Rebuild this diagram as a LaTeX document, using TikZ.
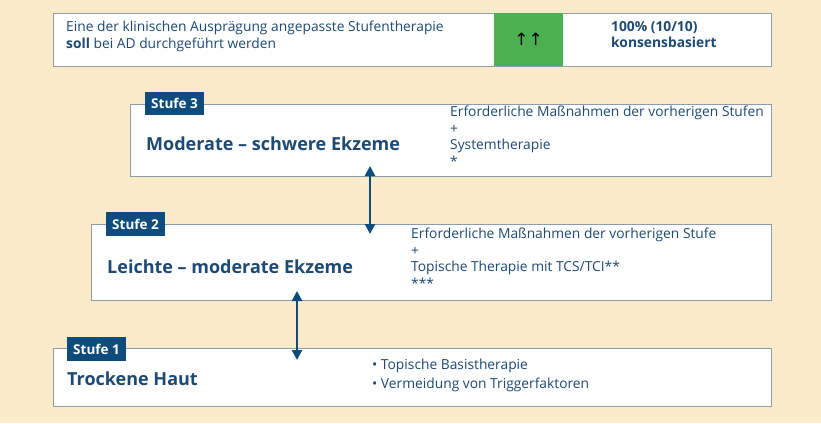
\documentclass[tikz,border=0pt]{standalone}
\usepackage{fontspec}
\setmainfont{Open Sans}
\newfontfamily\symfont{DejaVu Sans}
\usetikzlibrary{arrows.meta}
\definecolor{bg}{HTML}{FCEBCB}
\definecolor{navy}{HTML}{0E4C7E}
\definecolor{txt}{HTML}{1D4A73}
\definecolor{bord}{HTML}{8C9CA8}
\definecolor{grn}{HTML}{4CAF50}
\tikzset{
  box/.style={draw=bord, fill=white, line width=0.8pt},
  tab/.style={fill=navy, text=white, font=\bfseries\fontsize{13.5}{15}\selectfont, inner sep=0pt, anchor=center},
  title/.style={text=txt, font=\bfseries\fontsize{18}{20}\selectfont, anchor=west, inner sep=0pt},
  body/.style={text=txt, font=\fontsize{13.8}{16.6}\selectfont, anchor=north west, inner sep=0pt, align=left},
  arr/.style={navy, line width=2.5pt, {Triangle[width=10pt,length=10pt]}-{Triangle[width=10pt,length=10pt]}}
}
\begin{document}
\begin{tikzpicture}[x=1pt,y=-1pt]
\fill[bg] (0,0) rectangle (821,423);
% top
\draw[box] (53,13) rectangle (771,66);
\fill[grn] (494,13.4) rectangle (563,65.6);
\node[body] (q) at (66,21) {Eine der klinischen Ausprägung angepasste Stufentherapie\\\textbf{soll} bei AD durchgeführt werden};
\node[text=black, font=\symfont\fontsize{17}{18}\selectfont, inner sep=0pt] (g) at (528.5,39) {↑↑};
\node[body, font=\bfseries\fontsize{13.8}{16.6}\selectfont] (k) at (611,21) {100\% (10/10)\\konsensbasiert};
% stufe 3
\draw[box] (130,104) rectangle (771,176);
\node[tab, minimum width=59pt, minimum height=23pt] (t3) at (174.5,103.5) {Stufe 3};
\node[title] (m3) at (146,144) {Moderate – schwere Ekzeme};
\node[body] (r3) at (450,106) {Erforderliche Maßnahmen der vorherigen Stufen\\+\\Systemtherapie\\*};
% stufe 2
\draw[box] (91,224) rectangle (771,300);
\node[tab, minimum width=59pt, minimum height=24pt] (t2) at (135.5,224) {Stufe 2};
\node[title] (m2) at (107,267) {Leichte – moderate Ekzeme};
\node[body] (r2) at (411,228) {Erforderliche Maßnahmen der vorherigen Stufe\\+\\Topische Therapie mit TCS/TCI**\\***};
% stufe 1
\draw[box] (53,348) rectangle (771,406);
\node[tab, minimum width=59pt, minimum height=24pt] (t1) at (96.5,349) {Stufe 1};
\node[title] (m1) at (67,379) {Trockene Haut};
\node[body, font=\fontsize{13.8}{19}\selectfont] (r1) at (372,359) {• Topische Basistherapie\\• Vermeidung von Triggerfaktoren};
% arrows
\coordinate (a1) at (370,166);
\coordinate (b1) at (370,234);
\coordinate (a2) at (297,291);
\coordinate (b2) at (297,360);
\draw[arr] (a1) -- (b1);
\draw[arr] (a2) -- (b2);
\end{tikzpicture}
\end{document}
